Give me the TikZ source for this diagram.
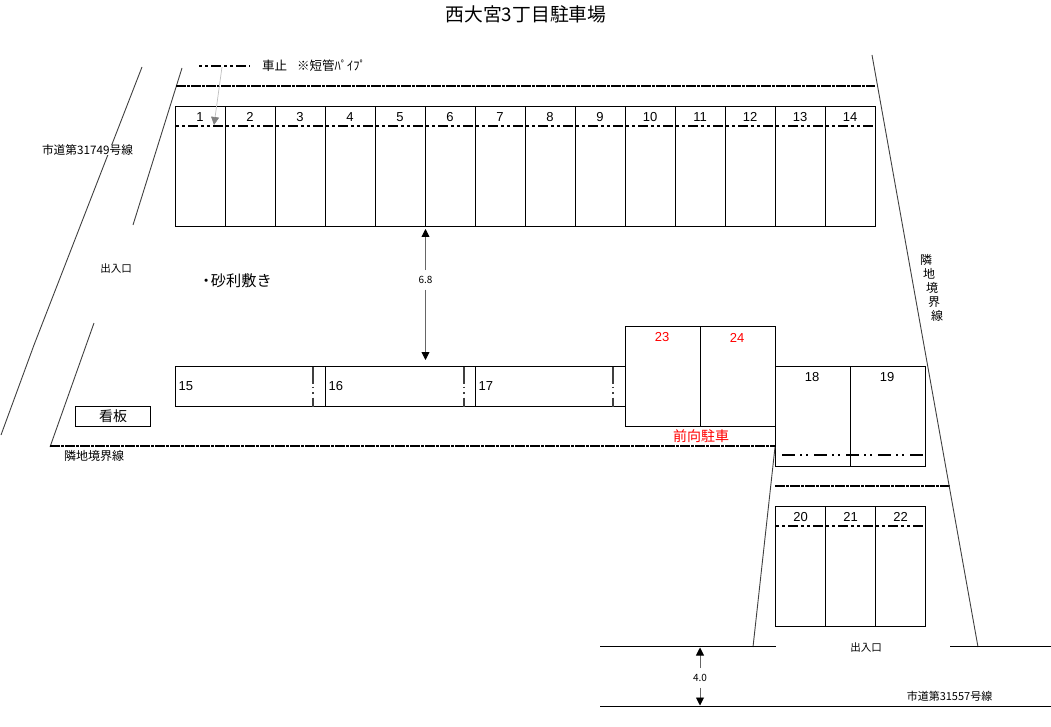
\documentclass[tikz,border=0pt]{standalone}
\usepackage{fontspec}
\setmainfont{Noto Sans CJK JP}
\newfontfamily\numfont{Liberation Sans}
\usepackage{xcolor}
\usetikzlibrary{arrows.meta}
\tikzset{
    slotbox/.style={draw, line width=1pt, inner sep=0pt, outer sep=0pt},
    slotnum/.style={font=\numfont\fontsize{13}{13}\selectfont, inner sep=0pt},
    stopline/.style={line width=1.8pt, dash pattern=on 3pt off 3pt on 3pt off 3pt on 10pt off 3pt},
    longstop/.style={line width=1.5pt, dash pattern=on 13pt off 5pt on 2pt off 4pt on 2pt off 6pt},
    fenceline/.style={line width=1.5pt, dash pattern=on 10pt off 1pt on 3pt off 1pt},
    siteline/.style={line width=0.9pt, draw=black!75},
    roadline/.style={line width=1pt},
    dimarrow/.style={line width=0.9pt, draw=black!60, -{Triangle[length=8pt,width=8pt,fill=black,color=black]}},
    txt/.style={inner sep=1pt, font=\fontsize{#1}{#1}\selectfont},
    txt/.default=11
}
\begin{document}
\begin{tikzpicture}[x=1pt,y=-1pt]
    \useasboundingbox (0,0) rectangle (1051,727);
    \node [txt=18.8] (title) at (526,14) {西大宮3丁目駐車場};

    % road edges on the left
    \draw [siteline] (142,67) -- (34,345) -- (1,435);
    \node [txt=11.7, fill=white, inner ysep=0pt, inner xsep=0pt] (road1) at (87.5,150) {市道第31749号線};
    \draw [siteline] (182,68) -- (133,225);
    \draw [siteline] (94,323) -- (50,447);
    \node [txt=10.5] (gate1) at (116,269) {出入口};

    % legend
    \coordinate (legA) at (199,66);
    \coordinate (legB) at (250,66);
    \draw [stopline] (legA) -- (legB);
    \node [txt=12.5, anchor=west] (legend) at (261,66) {車止\hspace{0.8em}※短管ﾊﾟｲﾌﾟ};

    % upper row
    \foreach \n in {1,...,14} {
        \node [slotbox, minimum width=50pt, minimum height=120pt] (a\n) at ({150.5+50*\n},166.5) {};
        \node [slotnum] (numa\n) at ({150+50*\n},117) {\n};
    }
    \coordinate (stopA) at (176,126);
    \coordinate (stopB) at (875,126);
    \draw [stopline] (stopA) -- (stopB);
    \coordinate (fenceA) at (176,86);
    \coordinate (fenceB) at (875,86);
    \draw [fenceline] (fenceA) -- (fenceB);
    \coordinate (legArrow) at (222,67);
    \coordinate (legTip) at (214,125);
    \draw [line width=0.7pt, draw=black!25, -{Triangle[length=8pt,width=8pt,color=black!50,fill=black!50]}] (legArrow) -- (legTip);

    % gravel
    \node [txt=15.2, anchor=west] (gravel) at (197.5,281) {・\hspace{-3pt}砂利敷き};

    % lower row
    \foreach \n/\x in {15/250.5,16/400.5,17/550.5} {
        \node [slotbox, minimum width=150pt, minimum height=40pt] (b\n) at (\x,386.5) {};
        \node [slotnum, anchor=west] (numb\n) at ({\x-72},386.5) {\n};
    }
    \foreach \x/\n in {313/15,464/16,613/17} {
        \draw [line width=2pt, draw=black!75, dash pattern=on 17pt off 3pt on 1.5pt off 4pt on 1.5pt off 4pt on 9pt] (\x,366.5) -- (\x,406.5);
    }
    \node [slotbox, txt=14, minimum width=75pt, minimum height=20pt] (sign) at (113,416.5) {看板};

    % forward parking
    \foreach \n/\x in {23/663,24/738} {
        \node [slotbox, minimum width=75pt, minimum height=100pt] (c\n) at (\x,376.5) {};
        \node [slotnum, text=red] (numc\n) at (\x-1,337.5) {\n};
    }
    \node [txt=14, text=red] (front) at (701,436) {前向駐車};
    \foreach \n/\x in {18/813,19/888} {
        \node [slotbox, minimum width=75pt, minimum height=100pt] (d\n) at (\x,416.5) {};
        \node [slotnum] (numd\n) at (\x-1,377.5) {\n};
    }
    \coordinate (stopC) at (782,455);
    \coordinate (stopD) at (923,455);
    \draw [longstop] (stopC) -- (stopD);

    % fences
    \coordinate (fenceC) at (50,446);
    \coordinate (fenceD) at (775,446);
    \draw [fenceline] (fenceC) -- (fenceD);
    \node [txt=12] (border1) at (94,456) {隣地境界線};
    \coordinate (fenceE) at (775,486);
    \coordinate (fenceF) at (950,486);
    \draw [fenceline] (fenceE) -- (fenceF);

    % lower right row
    \foreach \n/\x in {20/800.5,21/850.5,22/900.5} {
        \node [slotbox, minimum width=50pt, minimum height=120pt] (e\n) at (\x,566.5) {};
        \node [slotnum] (nume\n) at (\x,517) {\n};
    }
    \coordinate (stopE) at (776,526);
    \coordinate (stopF) at (925,526);
    \draw [stopline] (stopE) -- (stopF);

    % site edges
    \draw [siteline] (775,447) -- (753,647);
    \draw [siteline] (872,55) -- (978,647);
    \foreach \c/\x/\y in {隣/926/260,地/929/274,境/932/288,界/934/302,線/937/316} {
        \node [txt=12] (b\c) at (\x,\y) {\c};
    }

    % road
    \draw [roadline] (600,646.5) -- (776,646.5);
    \draw [roadline] (950,646.5) -- (1051,646.5);
    \draw [roadline] (600,706.5) -- (1051,706.5);
    \node [txt=10.5] (gate2) at (866,648) {出入口};
    \node [txt=11] (road2) at (949.5,696) {市道第31557号線};

    % widths
    \node [txt=10, fill=white, inner ysep=6pt] (w68) at (425.5,280) {6.8};
    \draw [dimarrow] (w68) -- (425.5,229);
    \draw [dimarrow] (w68) -- (425.5,360);
    \node [txt=10, fill=white, inner ysep=6pt] (w40) at (700,678) {4.0};
    \draw [dimarrow] (w40) -- (700,647.5);
    \draw [dimarrow] (w40) -- (700,705.5);
\end{tikzpicture}
\end{document}
